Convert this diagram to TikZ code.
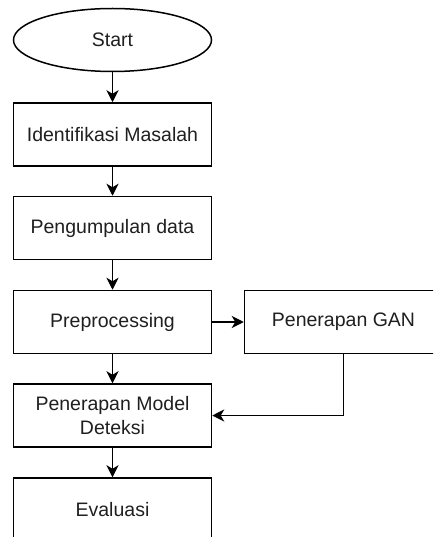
\documentclass[tikz,border=0pt]{standalone}
\usepackage{fontspec}
\setmainfont{Liberation Sans}
\usetikzlibrary{arrows.meta,shapes.geometric}
\begin{document}
\begin{tikzpicture}[x=1pt,y=-1pt,
  every node/.style={font=\fontsize{19.5pt}{23.4pt}\selectfont, text=black!88},
  stepbox/.style={draw=black, line width=1.5pt, rectangle, minimum width=198pt, minimum height=63pt, inner sep=0pt, align=center},
  termbox/.style={draw=black, line width=1.5pt, ellipse, minimum width=198pt, minimum height=63pt, inner sep=0pt},
  flow/.style={draw=black, line width=1.5pt, -{Stealth[length=12pt,width=12pt,inset=3.5pt]}}]
\useasboundingbox (0,0) rectangle (433,537);
\clip (0,0) rectangle (433,537);
\node[termbox] (start) at (112.5,40) {Start};
\node[stepbox] (ident) at (112.5,134.5) {Identifikasi Masalah};
\node[stepbox] (peng) at (112.5,228) {Pengumpulan data};
\node[stepbox] (prep) at (112.5,322) {Preprocessing};
\node[stepbox] (gan) at (343.5,322) {Penerapan GAN};
\node[stepbox] (model) at (112.5,415.5) {Penerapan Model\\Deteksi};
\node[stepbox] (eval) at (112.5,509.5) {Evaluasi};
\draw[flow] (start) -- (ident);
\draw[flow] (ident) -- (peng);
\draw[flow] (peng) -- (prep);
\draw[flow] (prep) -- (gan);
\draw[flow] (prep) -- (model);
\draw[flow] (gan.south) -- (gan.south |- model.east) -- (model.east);
\draw[flow] (model) -- (eval);
\end{tikzpicture}
\end{document}
